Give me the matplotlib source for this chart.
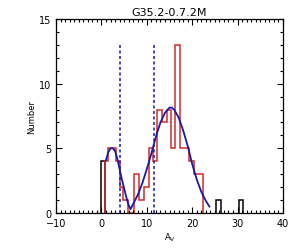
import numpy as np
import matplotlib
matplotlib.use('Agg')
import matplotlib.pyplot as plt
from matplotlib.ticker import MultipleLocator

# black histogram pieces (outside the fitted range)
black_edges = [[0.0, 0.8], [25.3, 26.3], [30.3, 31.3]]
black_counts = [[4], [1], [1]]

# red histogram (fitted range)
red_edges = [0.8, 1.5, 3.2, 4.1, 4.7, 5.9, 7.1, 8.2, 9.3, 10.4, 11.3, 12.2,
             13.3, 14.4, 15.3, 16.3, 17.4, 19.3, 20.3, 22.3]
red_counts = [4, 5, 4, 2, 1, 0, 3, 1, 2, 5, 4, 8, 7, 8, 5, 13, 5, 4, 3]

# fitted curve
fit_x = [1.0, 1.5, 2.0, 2.5, 3.0, 3.5, 4.0, 4.5, 5.0, 5.5, 6.0, 6.4, 7.0, 8.0,
         9.0, 10.0, 11.0, 12.0, 13.0, 14.0, 15.0, 15.5, 16.0, 17.0, 18.0,
         19.0, 20.0, 21.0, 22.0, 23.0, 23.8]
fit_y = [4.1, 4.7, 5.0, 5.0, 4.8, 4.2, 3.4, 2.6, 1.9, 1.2, 0.6, 0.3, 0.7, 1.4,
         2.3, 3.4, 4.6, 5.9, 7.0, 7.75, 8.15, 8.15, 8.0, 7.4, 6.4,
         5.2, 3.8, 2.6, 1.65, 0.95, 0.5]

cuts = [4.0, 11.5]
cut_top = 13.0

fig = plt.figure(figsize=(3.0, 2.53), dpi=100)
ax = fig.add_axes([0.187, 0.154, 0.756, 0.767])

for e, c in zip(black_edges, black_counts):
    ax.stairs(c, e, baseline=0, color='black', lw=1.1)
ax.stairs(red_counts, red_edges, baseline=0, color='#d42a2a', lw=1.1)
ax.plot(fit_x, fit_y, color='#1a1aa8', lw=1.3)
for c in cuts:
    ax.plot([c, c], [0, cut_top], color='#1a1aa8', lw=1.1, ls=(0, (2, 1.6)))

ax.set_xlim(-10, 40)
ax.set_ylim(0, 15)
ax.xaxis.set_major_locator(MultipleLocator(10))
ax.xaxis.set_minor_locator(MultipleLocator(1))
ax.yaxis.set_major_locator(MultipleLocator(5))
ax.yaxis.set_minor_locator(MultipleLocator(1))
ax.tick_params(which='both', direction='in', top=True, right=True, labelsize=7, width=0.8)
ax.tick_params(which='major', length=4)
ax.tick_params(which='minor', length=2)
for s in ax.spines.values():
    s.set_linewidth(0.9)

ax.set_title('G35.2-0.7.2M', fontsize=8, pad=3)
ax.set_xlabel(r'A$_\mathregular{V}$', fontsize=6, labelpad=2)
ax.set_ylabel('Number', fontsize=6, labelpad=2)

fig.savefig('out.png', dpi=100)
